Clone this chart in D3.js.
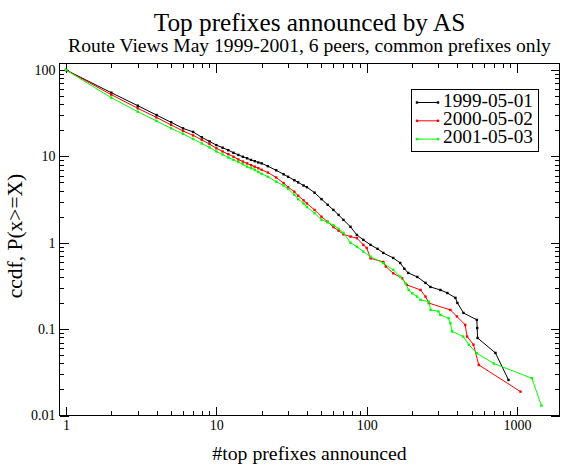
<!DOCTYPE html>
<html><head><meta charset="utf-8">
<script src="https://cdn.jsdelivr.net/npm/d3@7"></script>
<style>
body{margin:0;background:#fff}
svg{display:block}
text{font-family:"Liberation Serif","Times New Roman",serif;fill:#000}
</style>
</head><body><svg id="c" width="562" height="465"></svg>
<script>
// ---------- data ----------
const titleText = "Top prefixes announced by AS";
const subtitleText = "Route Views May 1999-2001, 6 peers, common prefixes only";
const xLabelText = "#top prefixes announced";
const yLabelText = "ccdf, P(x>=X)";
const seriesNames = ["1999-05-01", "2000-05-02", "2001-05-03"];
const xTickValues = [1, 10, 100, 1000];
const xTickLabels = ["1", "10", "100", "1000"];
const yTickValues = [0.01, 0.1, 1, 10, 100];
const yTickLabels = ["0.01", "0.1", "1", "10", "100"];

const ccdf1999 = [
[1,100],[2,54.6],[3,38.6],[4,30.1],[5,24.8],[6,21.1],[7,19.2],[8,16.6],[9,14.9],[10,13.5],
[11,12.6],[12,11.8],[13,11.0],[14,10.4],[15,9.9],[16,9.5],[17,9.1],[18,8.8],[19,8.5],[20,8.3],
[22,7.7],[25,6.9],[28,6.2],[30,5.8],[33,5.3],[35,5.0],[38,4.6],[40,4.4],[45,3.8],[50,3.2],
[55,2.75],[60,2.4],[65,2.1],[70,1.84],[78,1.53],[86,1.23],[95,1.08],[106,0.944],[118,0.85],
[129,0.762],[150,0.667],[167,0.584],[178,0.5],[189,0.447],[217,0.402],[246,0.343],[265,0.308],
[309,0.284],[344,0.262],[389,0.230],[401,0.201],[440,0.154],[540,0.128],[543,0.103],[546,0.079],
[718,0.053],[877,0.0258]
];
const ccdf2000 = [
[1,100],[2,51.8],[3,36.0],[4,28.2],[5,23.1],[6,19.7],[7,17.5],[8,15.5],[9,13.9],[10,12.4],
[11,11.4],[12,10.6],[13,9.9],[14,9.2],[15,8.7],[16,8.3],[17,7.9],[18,7.6],[19,7.3],[20,7.0],
[22,6.5],[25,5.7],[28,4.9],[30,4.4],[33,3.9],[35,3.5],[38,3.1],[40,2.85],[45,2.4],[50,2.0],
[55,1.75],[60,1.52],[65,1.38],[70,1.25],[78,1.18],[86,1.13],[95,0.944],[100,0.87],[106,0.66],
[129,0.60],[134,0.53],[150,0.443],[172,0.388],[185,0.325],[228,0.284],[246,0.238],[259,0.20],
[360,0.167],[398,0.14],[452,0.112],[465,0.082],[513,0.066],[556,0.0385],[1054,0.0189]
];
const ccdf2001 = [
[1,100],[2,47.8],[3,32.9],[4,25.7],[5,21.1],[6,18.2],[7,15.9],[8,14.1],[9,12.7],[10,11.4],
[11,10.5],[12,9.7],[13,9.1],[14,8.6],[15,8.1],[16,7.6],[17,7.3],[18,7.0],[19,6.6],[20,6.3],
[22,5.8],[25,5.1],[28,4.6],[30,4.2],[33,3.6],[35,3.2],[38,2.85],[40,2.6],[45,2.2],[50,1.85],
[55,1.72],[60,1.6],[65,1.45],[70,1.30],[78,1.0],[86,0.9],[95,0.79],[106,0.69],[129,0.58],
[150,0.485],[167,0.405],[181,0.34],[190,0.284],[201,0.26],[216,0.238],[228,0.218],[259,0.208],
[266,0.167],[300,0.16],[309,0.146],[350,0.134],[360,0.117],[370,0.094],[438,0.082],[478,0.066],
[540,0.0526],[700,0.040],[1254,0.027],[1452,0.013]
];
const xDomain = [0.905, 1915];
const yDomain = [0.01, 118.9];

// ---------- drawing ----------
const series = [ccdf1999, ccdf2000, ccdf2001];
const colors = ["#000000", "#ff0000", "#00ff00"];
const L = 59.5, R = 559.5, T = 63.5, B = 415.5;
const CX = (L + R) / 2;

const svg = d3.select("#c");
const x = d3.scaleLog().domain(xDomain).range([L, R]);
const y = d3.scaleLog().domain(yDomain).range([B, T]);

function minorVals(dom) {
  const out = [];
  const k0 = Math.floor(Math.log10(dom[0])), k1 = Math.ceil(Math.log10(dom[1]));
  for (let k = k0; k <= k1; k++) for (let m = 2; m <= 9; m++) {
    const v = m * Math.pow(10, k);
    if (v > dom[0] && v < dom[1]) out.push(v);
  }
  return out;
}
const xMinor = minorVals(xDomain), yMinor = minorVals(yDomain);

function styleAxis(g) {
  g.select(".domain").remove();
  g.selectAll("line").attr("stroke", "#000").attr("stroke-width", 1).attr("shape-rendering", "crispEdges");
  g.selectAll("text").attr("font-family", '"Liberation Serif","Times New Roman",serif').attr("font-size", 14).attr("fill", "#000");
}

// bottom
svg.append("g").attr("transform", `translate(0,${B})`)
  .call(d3.axisBottom(x).tickValues(xMinor).tickSize(-4.5).tickFormat("")).call(styleAxis);
svg.append("g").attr("transform", `translate(0,${B})`)
  .call(d3.axisBottom(x).tickValues(xTickValues).tickSize(-9).tickPadding(5)
    .tickFormat((d, i) => xTickLabels[i])).call(styleAxis);
// top
svg.append("g").attr("transform", `translate(0,${T})`)
  .call(d3.axisTop(x).tickValues(xMinor).tickSize(-4.5).tickFormat("")).call(styleAxis);
svg.append("g").attr("transform", `translate(0,${T})`)
  .call(d3.axisTop(x).tickValues(xTickValues).tickSize(-9).tickFormat("")).call(styleAxis);
// left
svg.append("g").attr("transform", `translate(${L},0)`)
  .call(d3.axisLeft(y).tickValues(yMinor).tickSize(-4.5).tickFormat("")).call(styleAxis);
svg.append("g").attr("transform", `translate(${L},0)`)
  .call(d3.axisLeft(y).tickValues(yTickValues).tickSize(-9).tickPadding(4)
    .tickFormat((d, i) => yTickLabels[i])).call(styleAxis);
// right
svg.append("g").attr("transform", `translate(${R},0)`)
  .call(d3.axisRight(y).tickValues(yMinor).tickSize(-4.5).tickFormat("")).call(styleAxis);
svg.append("g").attr("transform", `translate(${R},0)`)
  .call(d3.axisRight(y).tickValues(yTickValues).tickSize(-9).tickFormat("")).call(styleAxis);

// frame
svg.append("rect").attr("x", L).attr("y", T).attr("width", R - L).attr("height", B - T)
  .attr("fill", "none").attr("stroke", "#000").attr("stroke-width", 1.2).attr("shape-rendering", "crispEdges");

// series
const line = d3.line().x(d => x(d[0])).y(d => y(d[1]));
series.forEach((s, i) => {
  const g = svg.append("g");
  g.append("path").attr("d", line(s)).attr("fill", "none").attr("stroke", colors[i]).attr("stroke-width", 1);
  g.selectAll("rect").data(s).join("rect")
    .attr("x", d => x(d[0]) - 1.2).attr("y", d => y(d[1]) - 1.2)
    .attr("width", 2.4).attr("height", 2.4).attr("fill", colors[i]);
});

// legend
const lg = svg.append("g");
lg.append("rect").attr("x", 411.5).attr("y", 89.5).attr("width", 127).attr("height", 62)
  .attr("fill", "#fff").attr("stroke", "#000").attr("stroke-width", 1);
seriesNames.forEach((n, i) => {
  const yy = 102.5 + i * 18.3;
  lg.append("line").attr("x1", 417).attr("x2", 438).attr("y1", yy).attr("y2", yy)
    .attr("stroke", colors[i]).attr("stroke-width", 1);
  [417, 438].forEach(px => lg.append("rect").attr("x", px - 1.2).attr("y", yy - 1.2)
    .attr("width", 2.4).attr("height", 2.4).attr("fill", colors[i]));
  lg.append("text").attr("x", 443).attr("y", yy + 4.2).attr("font-size", 19.3).text(n);
});

// titles
svg.append("text").attr("x", CX).attr("y", 31).attr("text-anchor", "middle")
  .attr("font-size", 25.3).text(titleText);
svg.append("text").attr("x", CX).attr("y", 51.5).attr("text-anchor", "middle")
  .attr("font-size", 19.6).text(subtitleText);
svg.append("text").attr("x", CX).attr("y", 460).attr("text-anchor", "middle")
  .attr("font-size", 19.8).text(xLabelText);
svg.append("text").attr("transform", `translate(22,236) rotate(-90)`)
  .attr("text-anchor", "middle").attr("font-size", 21.5).text(yLabelText);
</script>
</body></html>
